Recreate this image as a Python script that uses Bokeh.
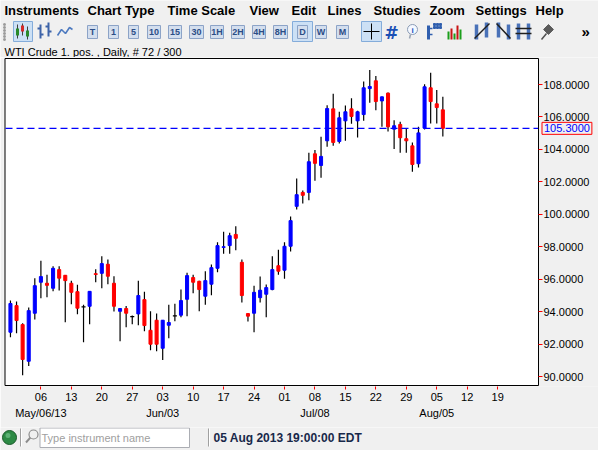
from bokeh.plotting import figure
from bokeh.models import (Range1d, FixedTicker, NumeralTickFormatter, ColumnDataSource,
                          Label, BoxAnnotation)
from bokeh.layouts import column
from bokeh.embed import file_html
from bokeh.resources import INLINE
from bokeh.core.properties import value

# ---------------- data ----------------
opens = [92.73, 94.37, 93.20, 90.94, 93.90, 95.81, 95.75, 95.44, 96.59, 96.24,
         95.75, 95.23, 94.29, 94.33, 96.34, 96.36, 96.92, 95.75, 94.02, 94.19,
         93.69, 93.86, 94.74, 92.85, 93.47, 91.74, 93.16, 93.74, 93.78, 94.76,
         96.10, 95.87, 94.95, 95.69, 96.67, 97.96, 98.07, 98.76, 97.04, 93.88,
         93.90, 94.86, 95.07, 95.36, 96.83, 96.55, 98.03, 100.49, 101.35, 101.35,
         103.73, 103.01, 104.53, 106.50, 104.49, 105.76, 106.50, 105.76, 106.15, 107.75,
         108.23, 106.99, 107.47, 105.25, 105.54, 104.66, 104.22, 103.12, 105.31, 107.80,
         106.81, 106.44]
highs = [94.68, 94.62, 93.28, 94.25, 96.05, 97.14, 96.28, 96.79, 96.79, 96.26,
         95.91, 95.66, 94.43, 95.27, 96.61, 97.41, 97.22, 96.18, 94.21, 94.35,
         93.76, 95.91, 95.23, 94.02, 93.88, 93.49, 94.43, 94.49, 95.36, 96.40,
         96.28, 95.91, 96.49, 96.90, 98.27, 98.93, 98.87, 99.26, 97.21, 93.90,
         95.60, 96.16, 95.67, 97.41, 97.82, 98.27, 99.87, 102.21, 101.47, 103.79,
         103.96, 104.78, 106.73, 107.43, 106.32, 106.71, 107.16, 106.38, 108.19, 108.90,
         108.53, 107.26, 107.51, 105.80, 105.70, 105.31, 104.43, 105.39, 108.02, 108.72,
         107.67, 107.24]
lows = [92.42, 92.67, 90.08, 90.64, 93.51, 94.82, 94.88, 95.25, 95.30, 93.35,
        94.45, 93.84, 92.11, 93.22, 95.81, 95.44, 95.69, 94.00, 92.18, 93.04,
        93.22, 93.16, 92.79, 91.62, 91.56, 91.01, 92.36, 93.41, 93.65, 93.72,
        95.13, 94.02, 94.43, 95.01, 96.42, 97.57, 97.57, 97.78, 94.56, 93.39,
        92.73, 94.56, 93.65, 95.32, 96.28, 96.03, 97.70, 100.30, 100.67, 100.86,
        102.07, 102.25, 104.16, 104.22, 104.37, 104.53, 105.58, 104.74, 105.76, 106.87,
        106.42, 105.39, 105.11, 104.02, 103.79, 103.79, 102.62, 102.89, 105.23, 105.60,
        105.60, 104.80]
closes = [94.50, 93.45, 91.05, 94.06, 95.60, 96.16, 95.62, 96.67, 96.06, 95.91,
          95.19, 94.21, 94.29, 95.25, 96.29, 96.96, 96.18, 94.33, 94.19, 93.90,
          93.69, 94.99, 93.14, 91.99, 91.99, 93.47, 93.33, 93.74, 94.68, 96.22,
          95.81, 95.36, 95.91, 96.71, 98.07, 98.00, 98.68, 98.52, 94.99, 93.72,
          95.19, 95.32, 95.48, 96.59, 96.49, 98.03, 99.61, 101.21, 101.17, 103.24,
          103.14, 103.57, 106.52, 104.43, 105.95, 106.32, 106.03, 106.32, 107.80, 107.88,
          106.95, 107.24, 105.39, 105.46, 104.72, 104.53, 103.07, 105.02, 107.86, 106.95,
          106.58, 105.30]

tick_index = [5, 10, 15, 20, 25, 30, 35, 40, 45, 50, 55, 60, 65, 70, 75, 80]
tick_days = ["06", "13", "20", "27", "03", "10", "17", "24", "01", "08", "15", "22", "29", "05", "12", "19"]
month_labels = {5: "May/06/13", 25: "Jun/03", 50: "Jul/08", 70: "Aug/05"}
price_ticks = [90, 92, 94, 96, 98, 100, 102, 104, 106, 108]

title_text = "WTI Crude 1. pos. , Daily, # 72 / 300"
status_text = "05 Aug 2013 19:00:00 EDT"
placeholder_text = "Type instrument name"
menu_items = ["Instruments", "Chart Type", "Time Scale", "View", "Edit",
              "Lines", "Studies", "Zoom", "Settings", "Help"]
time_buttons = ["T", "1", "5", "10", "15", "30", "1H", "2H", "4H", "8H", "D", "W", "M"]

# ---------------- layout constants ----------------
W = 598
TOP_H = 57
MAIN_H = 370
STATUS_H = 450 - TOP_H - MAIN_H
BG = "#F0F0F0"
FONT = value("Liberation Sans")


def chrome_fig(height, y0, y1):
    f = figure(width=W, height=height, x_range=Range1d(0, W), y_range=Range1d(y0, y1),
               x_axis_type=None, y_axis_type=None, toolbar_location=None,
               output_backend="svg", min_border=0, frame_align=False)
    f.grid.visible = False
    f.outline_line_color = None
    f.background_fill_color = BG
    f.border_fill_color = BG
    return f


# ---------------- top chrome: menu, toolbar, title ----------------
top = chrome_fig(TOP_H, 57, 0)
menu_x = [4, 87, 167, 249, 291, 327, 373, 429, 475, 535]
top.text(x=menu_x, y=[9.5] * len(menu_items), text=menu_items, text_font=FONT,
         text_font_size="13px", text_font_style="bold", text_baseline="middle",
         text_align="left", text_color="#000000")

# grip
top.scatter(x=[4] * 6, y=[24, 27, 30, 33, 36, 39], marker="square", size=1.6,
            color="#9A9A9A")
# highlighted boxes (chart type, D, crosshair)
top.quad(left=[13, 292, 361], right=[32, 312, 381], top=[21] * 3, bottom=[41] * 3,
         fill_color="#CCE0F5", line_color="#84ACDA")
# candle icon
top.segment(x0=[17, 22, 27], y0=[24, 23, 26], x1=[17, 22, 27], y1=[38, 35, 39],
            line_color="#404040", line_width=1)
top.quad(left=[15.5, 20.5, 25.5], right=[18.5, 23.5, 28.5], top=[28, 25, 30],
         bottom=[35, 31, 36], fill_color=["#2A8A2A", "#D42A2A", "#2A8A2A"], line_color=None)
# bar icon
top.segment(x0=[40, 37, 40, 48, 45, 48], y0=[24, 28, 34, 22, 26, 31],
            x1=[40, 40, 43, 48, 48, 51], y1=[38, 28, 34, 36, 26, 31],
            line_color="#3D63A8", line_width=2)
# line icon
top.line(x=[57, 61, 65, 69, 72], y=[35, 29, 33, 27, 29], line_color="#4F7BC0", line_width=1.6)

# time-scale buttons
btn_left = [87, 108, 128, 147, 168, 189, 210, 231, 252, 273, 297, 315, 336]
btn_w = [10, 10, 10, 13, 13, 14, 13, 13, 13, 14, 10, 11, 12]
btn_right = [l + w for l, w in zip(btn_left, btn_w)]
top.quad(left=btn_left, right=btn_right, top=[25] * 13, bottom=[38] * 13,
         fill_color="#D3DEEE", line_color="#8CA3C7")
top.text(x=[(l + r) / 2 for l, r in zip(btn_left, btn_right)], y=[31.8] * 13, text=time_buttons,
         text_font=FONT, text_font_size="9px", text_font_style="bold",
         text_align="center", text_baseline="middle", text_color="#2B4D86")

# crosshair
top.segment(x0=[363, 371], y0=[31, 23], x1=[379, 371], y1=[31, 39], line_color="#000000",
            line_width=1)
# grid '#'
top.text(x=[384], y=[32], text=["#"], text_font=value("DejaVu Sans"), text_font_size="17px",
         text_font_style="bold", text_baseline="middle", text_color="#1B4FB5")
# info icon
top.scatter(x=[412], y=[29], size=10, fill_color="#F4F8FF", line_color="#8A9BB5")
top.text(x=[412], y=[29.5], text=["i"], text_font=FONT, text_font_size="8px",
         text_font_style="bold", text_align="center", text_baseline="middle",
         text_color="#2050C0")
top.segment(x0=[410], y0=[34], x1=[409], y1=[38], line_color="#9AA5B5", line_width=1.5)
# studies icon
top.segment(x0=[428, 428, 428], y0=[25, 28, 34], x1=[428, 432, 432], y1=[39, 28, 34],
            line_color="#2F5EAE", line_width=[3, 1.5, 1.5])
top.scatter(x=[434, 437, 440, 434, 437, 440], y=[24, 24, 24, 27, 27, 27], marker="square",
            size=2, color="#2F5EAE")
# bar chart icon
top.quad(left=[447, 450, 453, 456, 459], right=[449, 452, 455, 458, 461],
         top=[31, 28, 33, 25, 29], bottom=[39] * 5,
         fill_color=["#1B9E1B", "#C81414", "#1B9E1B", "#C81414", "#1B9E1B"], line_color=None)
# drawing tools icons
top.segment(x0=[476, 486, 498, 508, 518, 528], y0=[24, 22, 22, 24, 23, 23],
            x1=[476, 486, 498, 508, 518, 528], y1=[39, 37, 37, 39, 39, 39],
            line_color="#4A72B8", line_width=3.5)
top.segment(x0=[474, 496, 515, 515], y0=[38, 23, 28, 33], x1=[489, 510, 531, 531],
            y1=[23, 38, 28, 33], line_color="#202020", line_width=1.5)
# pin
top.segment(x0=[541], y0=[39], x1=[546], y1=[33], line_color="#505050", line_width=1.5)
top.scatter(x=[548], y=[29], marker="square", size=7, angle=0.785, color="#5A5A5A")
# chevrons
top.text(x=[581], y=[31], text=["\u00bb"], text_font=FONT, text_font_size="15px",
         text_font_style="bold", text_baseline="middle", text_color="#000000")
# chart title line
top.text(x=[4], y=[51], text=[title_text], text_font=FONT, text_font_size="11px",
         text_baseline="middle", text_align="left", text_color="#000000")

# ---------------- main candlestick chart ----------------
n = len(opens)
x_idx = list(range(n))
PX_PER_BAR = 6.09
PX_PER_USD = 16.22


def x_at(px):
    """data x (bar index) for a horizontal canvas pixel"""
    return (px - 9.95) / PX_PER_BAR


def y_at(py):
    """data y (price) for a vertical window pixel"""
    return 90 + (376 - py) / PX_PER_USD


FRAME_L, FRAME_T, FRAME_B = 3, 57, 386
p = figure(width=W, height=MAIN_H, x_range=Range1d(x_at(FRAME_L), x_at(W)),
           y_range=Range1d(y_at(FRAME_B), y_at(FRAME_T)),
           y_axis_location="right", toolbar_location=None, output_backend="svg",
           min_border_left=FRAME_L, min_border_top=0, min_border_right=0,
           min_border_bottom=TOP_H + MAIN_H - FRAME_B, frame_align=False)
p.grid.visible = False
p.background_fill_color = BG
p.border_fill_color = BG
p.outline_line_color = None

# white chart panel with black border
p.add_layout(BoxAnnotation(left=x_at(4.5), right=x_at(538), top=y_at(58), bottom=y_at(385),
                           fill_color="#FFFFFF", fill_alpha=1, line_color="#000000",
                           line_width=1, line_alpha=1, level="underlay"))

# wicks
p.segment(x0=x_idx, y0=highs, x1=x_idx, y1=lows, line_color="#000000", line_width=1.2)

# bodies
body = dict(x=[], top=[], bottom=[], color=[])
doji = dict(x0=[], x1=[], y=[])
for i, o, c in zip(x_idx, opens, closes):
    if c == o:
        doji["x0"].append(i - 0.33)
        doji["x1"].append(i + 0.33)
        doji["y"].append(c)
    else:
        body["x"].append(i)
        body["top"].append(max(o, c))
        body["bottom"].append(min(o, c))
        body["color"].append("#0000FF" if c > o else "#FF0000")
p.vbar(x="x", top="top", bottom="bottom", width=0.5, fill_color="color", line_color="color",
       line_width=1, source=ColumnDataSource(body))
p.segment(x0=doji["x0"], y0=doji["y"], x1=doji["x1"], y1=doji["y"], line_color="#000000",
          line_width=1.4)

# last price line and tag
last_close = closes[-1]
p.segment(x0=[x_at(5)], y0=[last_close], x1=[x_at(537.5)], y1=[last_close],
          line_color="#0000FF", line_dash="7 4", line_width=1.2)
p.add_layout(Label(x=x_at(541.5), y=last_close, x_units="data", y_units="data",
                   text=f"{last_close:.4f}", text_color="#0000FF", text_font="Liberation Sans",
                   text_font_size="11px", text_baseline="middle", text_align="left",
                   border_line_color="#FF0000", border_line_width=1, padding=2))

# axes
xa = p.xaxis[0]
xa.ticker = FixedTicker(ticks=tick_index)
xa.major_label_overrides = {
    t: (d + "\n" + month_labels[t]) if t in month_labels else d
    for t, d in zip(tick_index, tick_days)
}
xa.minor_tick_line_color = None
xa.major_tick_line_color = "#FF0000"
xa.major_tick_in = 0
xa.major_tick_out = 3
xa.major_label_standoff = 1
xa.axis_line_color = None
xa.major_label_text_font = "Liberation Sans"
xa.major_label_text_font_size = "11px"
xa.major_label_text_color = "#000000"
xa.major_label_text_line_height = 1.36

ya = p.yaxis[0]
ya.fixed_location = x_at(538)
ya.ticker = FixedTicker(ticks=price_ticks)
ya.formatter = NumeralTickFormatter(format="0.0000")
ya.minor_tick_line_color = None
ya.major_tick_line_color = "#FF0000"
ya.major_tick_in = 0
ya.major_tick_out = 4
ya.major_label_standoff = 1
ya.axis_line_color = None
ya.major_label_text_font = "Liberation Sans"
ya.major_label_text_font_size = "11px"
ya.major_label_text_color = "#000000"

# ---------------- status bar ----------------
st = chrome_fig(STATUS_H, 450, 450 - STATUS_H)
st.scatter(x=[9], y=[437], size=14, fill_color="#2D8A45", line_color="#1A5A2A")
st.scatter(x=[7.5], y=[435], size=5, fill_color="#7CCB95", fill_alpha=0.6, line_color=None)
st.segment(x0=[20, 21, 208, 209], y0=[428] * 4, x1=[20, 21, 208, 209], y1=[446] * 4,
           line_color=["#A0A0A0", "#FFFFFF", "#A0A0A0", "#FFFFFF"], line_width=1)
st.scatter(x=[33], y=[434], size=9, fill_color=None, line_color="#8C8C8C", line_width=1.2)
st.segment(x0=[29.8], y0=[437.2], x1=[25.5], y1=[442], line_color="#8C8C8C", line_width=2)
st.quad(left=[39.5], right=[189], top=[427.5], bottom=[447], fill_color="#FFFFFF",
        line_color="#ABADB3")
st.text(x=[41], y=[437], text=[placeholder_text], text_font=FONT, text_font_size="11px",
        text_baseline="middle", text_align="left", text_color="#A0A0A0")
st.text(x=[213], y=[437], text=[status_text], text_font=FONT, text_font_size="12px",
        text_font_style="bold", text_baseline="middle", text_align="left", text_color="#18284A")

layout = column(top, p, st, spacing=0)
open("out.html", "w").write(file_html(layout, INLINE))
